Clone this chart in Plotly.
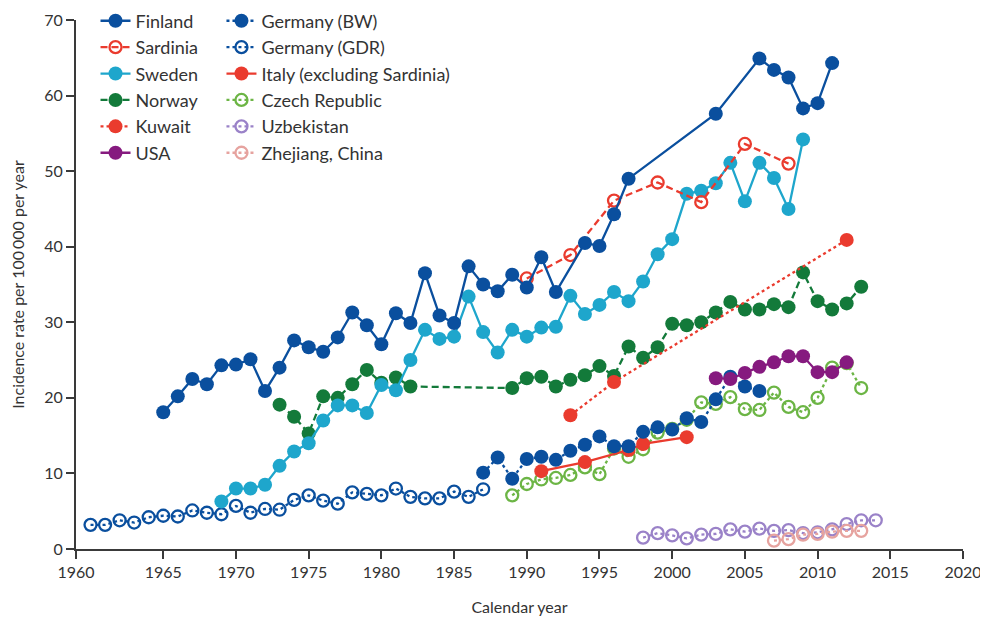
import plotly.graph_objects as go

# ---- data ----
finland_years = [1965, 1966, 1967, 1968, 1969, 1970, 1971, 1972, 1973, 1974, 1975, 1976, 1977,
                 1978, 1979, 1980, 1981, 1982, 1983, 1984, 1985, 1986, 1987, 1988, 1989, 1990,
                 1991, 1992, 1994, 1995, 1996, 1997, 2003, 2006, 2007, 2008, 2009, 2010, 2011]
finland_rates = [18.1, 20.2, 22.5, 21.8, 24.3, 24.4, 25.1, 20.9, 24.0, 27.6, 26.7, 26.1, 28.0,
                 31.3, 29.6, 27.1, 31.2, 29.9, 36.5, 30.9, 29.9, 37.4, 35.0, 34.1, 36.3, 34.6,
                 38.6, 34.0, 40.5, 40.1, 44.3, 49.0, 57.6, 64.9, 63.4, 62.4, 58.3, 59.0, 64.3]

sardinia_years = [1990, 1993, 1996, 1999, 2002, 2005, 2008]
sardinia_rates = [35.8, 38.9, 46.1, 48.5, 45.9, 53.6, 51.0]

sweden_years = [1969, 1970, 1971, 1972, 1973, 1974, 1975, 1976, 1977, 1978, 1979, 1980, 1981,
                1982, 1983, 1984, 1985, 1986, 1987, 1988, 1989, 1990, 1991, 1992, 1993, 1994,
                1995, 1996, 1997, 1998, 1999, 2000, 2001, 2002, 2003, 2004, 2005, 2006, 2007,
                2008, 2009]
sweden_rates = [6.3, 8.0, 8.0, 8.5, 11.0, 12.9, 14.0, 17.0, 19.0, 19.0, 18.0, 21.7, 21.0,
                25.0, 29.0, 27.8, 28.1, 33.4, 28.7, 26.0, 29.0, 28.1, 29.3, 29.4, 33.5, 31.1,
                32.3, 34.0, 32.8, 35.4, 39.0, 41.0, 47.0, 47.4, 48.4, 51.1, 46.0, 51.1, 49.1,
                45.0, 54.2]

norway_years = [1973, 1974, 1975, 1976, 1977, 1978, 1979, 1980, 1981, 1982, 1989, 1990, 1991,
                1992, 1993, 1994, 1995, 1996, 1997, 1998, 1999, 2000, 2001, 2002, 2003, 2004,
                2005, 2006, 2007, 2008, 2009, 2010, 2011, 2012, 2013]
norway_rates = [19.1, 17.5, 15.3, 20.2, 20.0, 21.8, 23.7, 22.0, 22.7, 21.5, 21.3, 22.6, 22.8,
                21.5, 22.4, 23.0, 24.2, 22.9, 26.8, 25.3, 26.7, 29.8, 29.6, 30.0, 31.3, 32.7,
                31.7, 31.7, 32.4, 32.0, 36.6, 32.8, 31.7, 32.5, 34.7]

kuwait_years = [1993, 1996, 2012]
kuwait_rates = [17.7, 22.1, 40.9]

usa_years = [2003, 2004, 2005, 2006, 2007, 2008, 2009, 2010, 2011, 2012]
usa_rates = [22.6, 22.5, 23.3, 24.1, 24.7, 25.5, 25.5, 23.4, 23.4, 24.7]

germany_bw_years = [1987, 1988, 1989, 1990, 1991, 1992, 1993, 1994, 1995, 1996, 1997, 1998,
                    1999, 2000, 2001, 2002, 2003, 2004, 2005, 2006]
germany_bw_rates = [10.1, 12.1, 9.3, 11.9, 12.2, 11.8, 13.0, 13.8, 14.9, 13.6, 13.6, 15.5,
                    16.1, 15.8, 17.3, 16.8, 19.8, 22.8, 21.5, 20.9]

germany_gdr_years = [1960, 1961, 1962, 1963, 1964, 1965, 1966, 1967, 1968, 1969, 1970, 1971,
                     1972, 1973, 1974, 1975, 1976, 1977, 1978, 1979, 1980, 1981, 1982, 1983,
                     1984, 1985, 1986, 1987]
germany_gdr_rates = [3.2, 3.2, 3.8, 3.5, 4.2, 4.4, 4.3, 5.1, 4.8, 4.6, 5.7, 4.8,
                     5.3, 5.2, 6.5, 7.1, 6.4, 6.0, 7.5, 7.3, 7.1, 8.0, 6.9, 6.7,
                     6.7, 7.6, 6.9, 7.9]

italy_years = [1991, 1994, 1997, 1998, 2001]
italy_rates = [10.3, 11.5, 13.1, 13.9, 14.8]

czech_years = [1989, 1990, 1991, 1992, 1993, 1994, 1995, 1996, 1997, 1998, 1999, 2000, 2001,
               2002, 2003, 2004, 2005, 2006, 2007, 2008, 2009, 2010, 2011, 2012, 2013]
czech_rates = [7.1, 8.6, 9.2, 9.4, 9.8, 10.8, 9.9, 13.3, 12.2, 13.2, 15.4, 15.9, 17.1,
               19.4, 19.2, 20.1, 18.5, 18.4, 20.7, 18.8, 18.1, 20.0, 24.0, 24.6, 21.3]

uzbekistan_years = [1998, 1999, 2000, 2001, 2002, 2003, 2004, 2005, 2006, 2007, 2008, 2009,
                    2010, 2011, 2012, 2013, 2014]
uzbekistan_rates = [1.5, 2.1, 1.8, 1.4, 1.9, 2.0, 2.6, 2.3, 2.7, 2.4, 2.5, 2.1,
                    2.2, 2.6, 3.3, 3.8, 3.8]

zhejiang_years = [2007, 2008, 2009, 2010, 2011, 2012, 2013]
zhejiang_rates = [1.1, 1.3, 1.9, 2.0, 2.3, 2.4, 2.4]

x_tickvals = [1959, 1965, 1970, 1975, 1980, 1985, 1990, 1995, 2000, 2005, 2010, 2015, 2020]
x_ticktext = ["1960", "1965", "1970", "1975", "1980", "1985", "1990", "1995", "2000",
              "2005", "2010", "2015", "2020"]

DARK_BLUE = "#0a4f9e"
CYAN = "#1ea6cc"
GREEN = "#137a3a"
RED = "#ea3b2e"
PURPLE = "#861a7f"
LIGHT_GREEN = "#6cb545"
LAVENDER = "#9a82c8"
PINK = "#e6a39f"

DASH = "7px,4px"
DOT = "3px,3px"

# (name, years, rates, colour, open marker?, dash, legend, rank)
SERIES = [
    ("Germany (GDR)", germany_gdr_years, germany_gdr_rates, DARK_BLUE, True, DOT, "legend2", 2),
    ("Uzbekistan", uzbekistan_years, uzbekistan_rates, LAVENDER, True, DOT, "legend2", 5),
    ("Zhejiang, China", zhejiang_years, zhejiang_rates, PINK, True, DOT, "legend2", 6),
    ("Czech Republic", czech_years, czech_rates, LIGHT_GREEN, True, DOT, "legend2", 4),
    ("Italy (excluding Sardinia)", italy_years, italy_rates, RED, False, "solid", "legend2", 3),
    ("Germany (BW)", germany_bw_years, germany_bw_rates, DARK_BLUE, False, DOT, "legend2", 1),
    ("USA", usa_years, usa_rates, PURPLE, False, "solid", "legend", 6),
    ("Norway", norway_years, norway_rates, GREEN, False, DASH, "legend", 4),
    ("Kuwait", kuwait_years, kuwait_rates, RED, False, DOT, "legend", 5),
    ("Sweden", sweden_years, sweden_rates, CYAN, False, "solid", "legend", 3),
    ("Sardinia", sardinia_years, sardinia_rates, RED, True, DASH, "legend", 2),
    ("Finland", finland_years, finland_rates, DARK_BLUE, False, "solid", "legend", 1),
]

fig = go.Figure()
for name, xs, ys, col, is_open, dash, leg, rank in SERIES:
    if is_open:
        marker = dict(symbol="circle-open", size=12, color=col, line=dict(color=col, width=2.3))
    else:
        marker = dict(symbol="circle", size=14, color=col)
    fig.add_trace(go.Scatter(
        x=xs, y=ys, name=name, mode="lines+markers",
        line=dict(color=col, width=2.3, dash=dash),
        marker=marker, legend=leg, legendrank=rank, cliponaxis=False))

TEXT = "#333333"
AXIS = "#3a3a3a"
legend_style = dict(font=dict(family="Lato, sans-serif", size=18, color=TEXT),
                    bgcolor="rgba(0,0,0,0)", yanchor="top", xanchor="left",
                    traceorder="normal", itemwidth=30, tracegroupgap=0)

# the page body adds an 8px margin, so the figure is sized to the remaining window
fig.update_layout(
    width=980, height=608,
    paper_bgcolor="white", plot_bgcolor="white",
    font=dict(family="Lato, sans-serif", size=16, color=TEXT),
    margin=dict(l=68, r=25, t=12, b=67, autoexpand=False),
    legend=dict(x=0.022, y=1.033, **legend_style),
    legend2=dict(x=0.164, y=1.033, **legend_style),
    xaxis=dict(range=[1959, 2020], tickvals=x_tickvals, ticktext=x_ticktext,
               showgrid=False, zeroline=False, showline=True, linecolor=AXIS, linewidth=2,
               ticks="outside", ticklen=8, tickwidth=2, tickcolor=AXIS,
               ticklabeloverflow="allow",
               tickfont=dict(size=16, color=TEXT),
               title=dict(text="Calendar year", font=dict(size=16, color=TEXT), standoff=28)),
    yaxis=dict(range=[0, 70], tickvals=[0, 10, 20, 30, 40, 50, 60, 70],
               showgrid=False, zeroline=False, showline=True, linecolor=AXIS, linewidth=2,
               ticks="outside", ticklen=8, tickwidth=2, tickcolor=AXIS,
               tickfont=dict(size=16, color=TEXT),
               title=dict(text="Incidence rate per 100\u2009000 per year",
                          font=dict(size=16, color=TEXT), standoff=16)),
)

fig.write_html("out.html")
